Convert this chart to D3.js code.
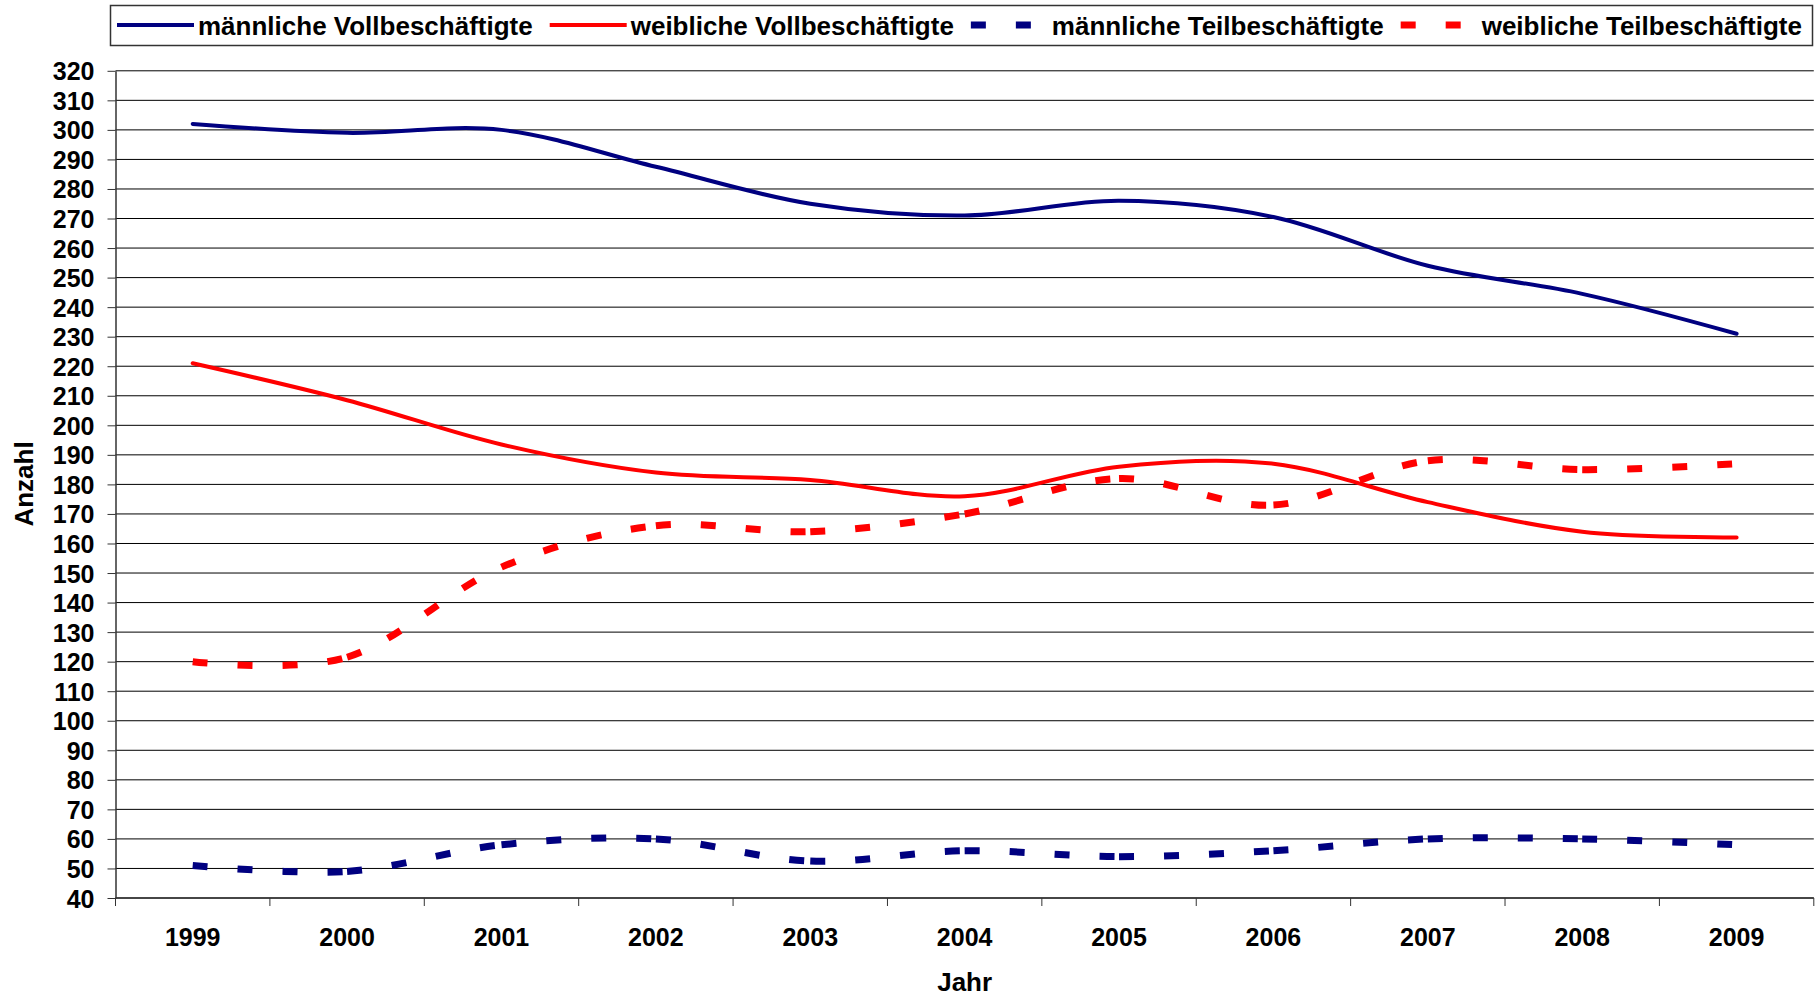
<!DOCTYPE html>
<html>
<head>
<meta charset="utf-8">
<script src="https://cdn.jsdelivr.net/npm/d3@7"></script>
<style>
  body { margin: 0; background: #fff; }
  svg text { font-family: "Liberation Sans", Arial, sans-serif; font-weight: bold; fill: #000; }
</style>
</head>
<body>
<div id="chart"></div>
<script>
// Beschäftigte 1999-2009, Werte
const years = ["1999", "2000", "2001", "2002", "2003", "2004", "2005", "2006", "2007", "2008", "2009"];
const maennlichVoll = [302, 299, 300, 287.5, 275, 271, 276, 270.5, 254, 244.5, 231];
const weiblichVoll = [221, 208.5, 193.5, 184, 181.5, 176, 186, 187, 174, 164, 162];
const maennlichTeil = [51, 49, 58, 60, 52.5, 56, 54, 56, 60, 60, 58];
const weiblichTeil = [120, 121.5, 152, 166, 164, 170, 182, 173, 188, 185, 187];
const yTicks = d3.range(40, 330, 10);

const seriesNames = ["männliche Vollbeschäftigte", "weibliche Vollbeschäftigte", "männliche Teilbeschäftigte", "weibliche Teilbeschäftigte"];

const W = 1820, H = 997;
const margin = { top: 70.8, right: 6.2, bottom: 99, left: 115.5 };
const width = W - margin.left - margin.right;
const height = H - margin.top - margin.bottom;

const svg = d3.select("#chart").append("svg")
    .attr("width", W)
    .attr("height", H);

const x = d3.scaleBand().domain(years).range([0, width]).padding(0);
const y = d3.scaleLinear().domain([40, 320]).range([height, 0]);

const g = svg.append("g").attr("transform", `translate(${margin.left},${margin.top})`);

// grid lines
g.selectAll(".grid")
    .data(yTicks)
    .enter()
    .append("line")
    .attr("class", "grid")
    .attr("x1", 0)
    .attr("x2", width)
    .attr("y1", d => y(d))
    .attr("y2", d => y(d))
    .attr("stroke", "#000")
    .attr("stroke-width", 1);

// y axis
const yAxis = g.append("g").call(d3.axisLeft(y).tickValues(yTicks).tickSize(8).tickSizeOuter(0).tickPadding(13));
yAxis.select(".domain").attr("stroke", "#333").attr("stroke-width", 1.5);
yAxis.selectAll(".tick line").attr("stroke", "#333");
yAxis.selectAll("text").style("font-size", "25px").attr("dy", "0.36em");

// x axis: line, boundary ticks, centered labels
const xAxis = g.append("g").attr("transform", `translate(0,${height})`);
xAxis.append("line")
    .attr("x1", 0).attr("x2", width)
    .attr("stroke", "#333").attr("stroke-width", 1.5);
xAxis.selectAll(".xtick")
    .data(years.concat(["end"]))
    .enter()
    .append("line")
    .attr("x1", d => d === "end" ? width : x(d))
    .attr("x2", d => d === "end" ? width : x(d))
    .attr("y1", 0).attr("y2", 8)
    .attr("stroke", "#333");
xAxis.selectAll(".xlabel")
    .data(years)
    .enter()
    .append("text")
    .attr("x", d => x(d) + x.bandwidth() / 2)
    .attr("y", 48)
    .attr("text-anchor", "middle")
    .style("font-size", "25px")
    .text(d => d);

// axis titles
svg.append("text")
    .attr("x", margin.left + width / 2)
    .attr("y", 991)
    .attr("text-anchor", "middle")
    .style("font-size", "26px")
    .text("Jahr");
svg.append("text")
    .attr("transform", "translate(33,484) rotate(-90)")
    .attr("text-anchor", "middle")
    .style("font-size", "26px")
    .text("Anzahl");

// split a smoothed line into one path per segment (dash pattern restarts at every point)
function segmentPaths(values) {
    const segs = [];
    let cx, cy;
    const ctx = {
        beginPath() {},
        closePath() {},
        moveTo(px, py) { cx = px; cy = py; },
        lineTo(px, py) { segs.push(`M${cx},${cy}L${px},${py}`); cx = px; cy = py; },
        bezierCurveTo(a, b, c, d, px, py) {
            segs.push(`M${cx},${cy}C${a},${b},${c},${d},${px},${py}`);
            cx = px; cy = py;
        }
    };
    d3.line()
        .x((d, i) => x(years[i]) + x.bandwidth() / 2)
        .y(d => y(d))
        .curve(d3.curveCardinal.tension(0))
        .context(ctx)(values);
    return segs;
}

const series = [
    { name: seriesNames[0], values: maennlichVoll, color: "#000080", dashed: false },
    { name: seriesNames[1], values: weiblichVoll, color: "#ff0000", dashed: false },
    { name: seriesNames[2], values: maennlichTeil, color: "#000080", dashed: true },
    { name: seriesNames[3], values: weiblichTeil, color: "#ff0000", dashed: true }
];

series.forEach(s => {
    if (s.dashed) {
        g.selectAll(null)
            .data(segmentPaths(s.values))
            .enter()
            .append("path")
            .attr("d", d => d)
            .attr("fill", "none")
            .attr("stroke", s.color)
            .attr("stroke-width", 7)
            .attr("stroke-dasharray", "15,30");
    } else {
        const line = d3.line()
            .x((d, i) => x(years[i]) + x.bandwidth() / 2)
            .y(d => y(d))
            .curve(d3.curveCardinal.tension(0));
        g.append("path")
            .datum(s.values)
            .attr("d", line)
            .attr("fill", "none")
            .attr("stroke", s.color)
            .attr("stroke-width", 4)
            .attr("stroke-linecap", "round");
    }
});

// legend
const legend = svg.append("g");
legend.append("rect")
    .attr("x", 110.5).attr("y", 5.5)
    .attr("width", 1702).attr("height", 40)
    .attr("fill", "#fff")
    .attr("stroke", "#333")
    .attr("stroke-width", 1.5);

let lx = 117;
const ly = 25;
series.forEach(s => {
    const sample = legend.append("line")
        .attr("x1", lx).attr("x2", lx + 77)
        .attr("y1", ly).attr("y2", ly)
        .attr("stroke", s.color);
    if (s.dashed) {
        sample.attr("stroke-width", 7).attr("stroke-dasharray", "15,30");
    } else {
        sample.attr("stroke-width", 4);
    }
    const t = legend.append("text")
        .attr("x", lx + 81)
        .attr("y", ly + 9.5)
        .style("font-size", "26px")
        .text(s.name);
    lx = lx + 81 + t.node().getComputedTextLength() + 17;
});
</script>
</body>
</html>
